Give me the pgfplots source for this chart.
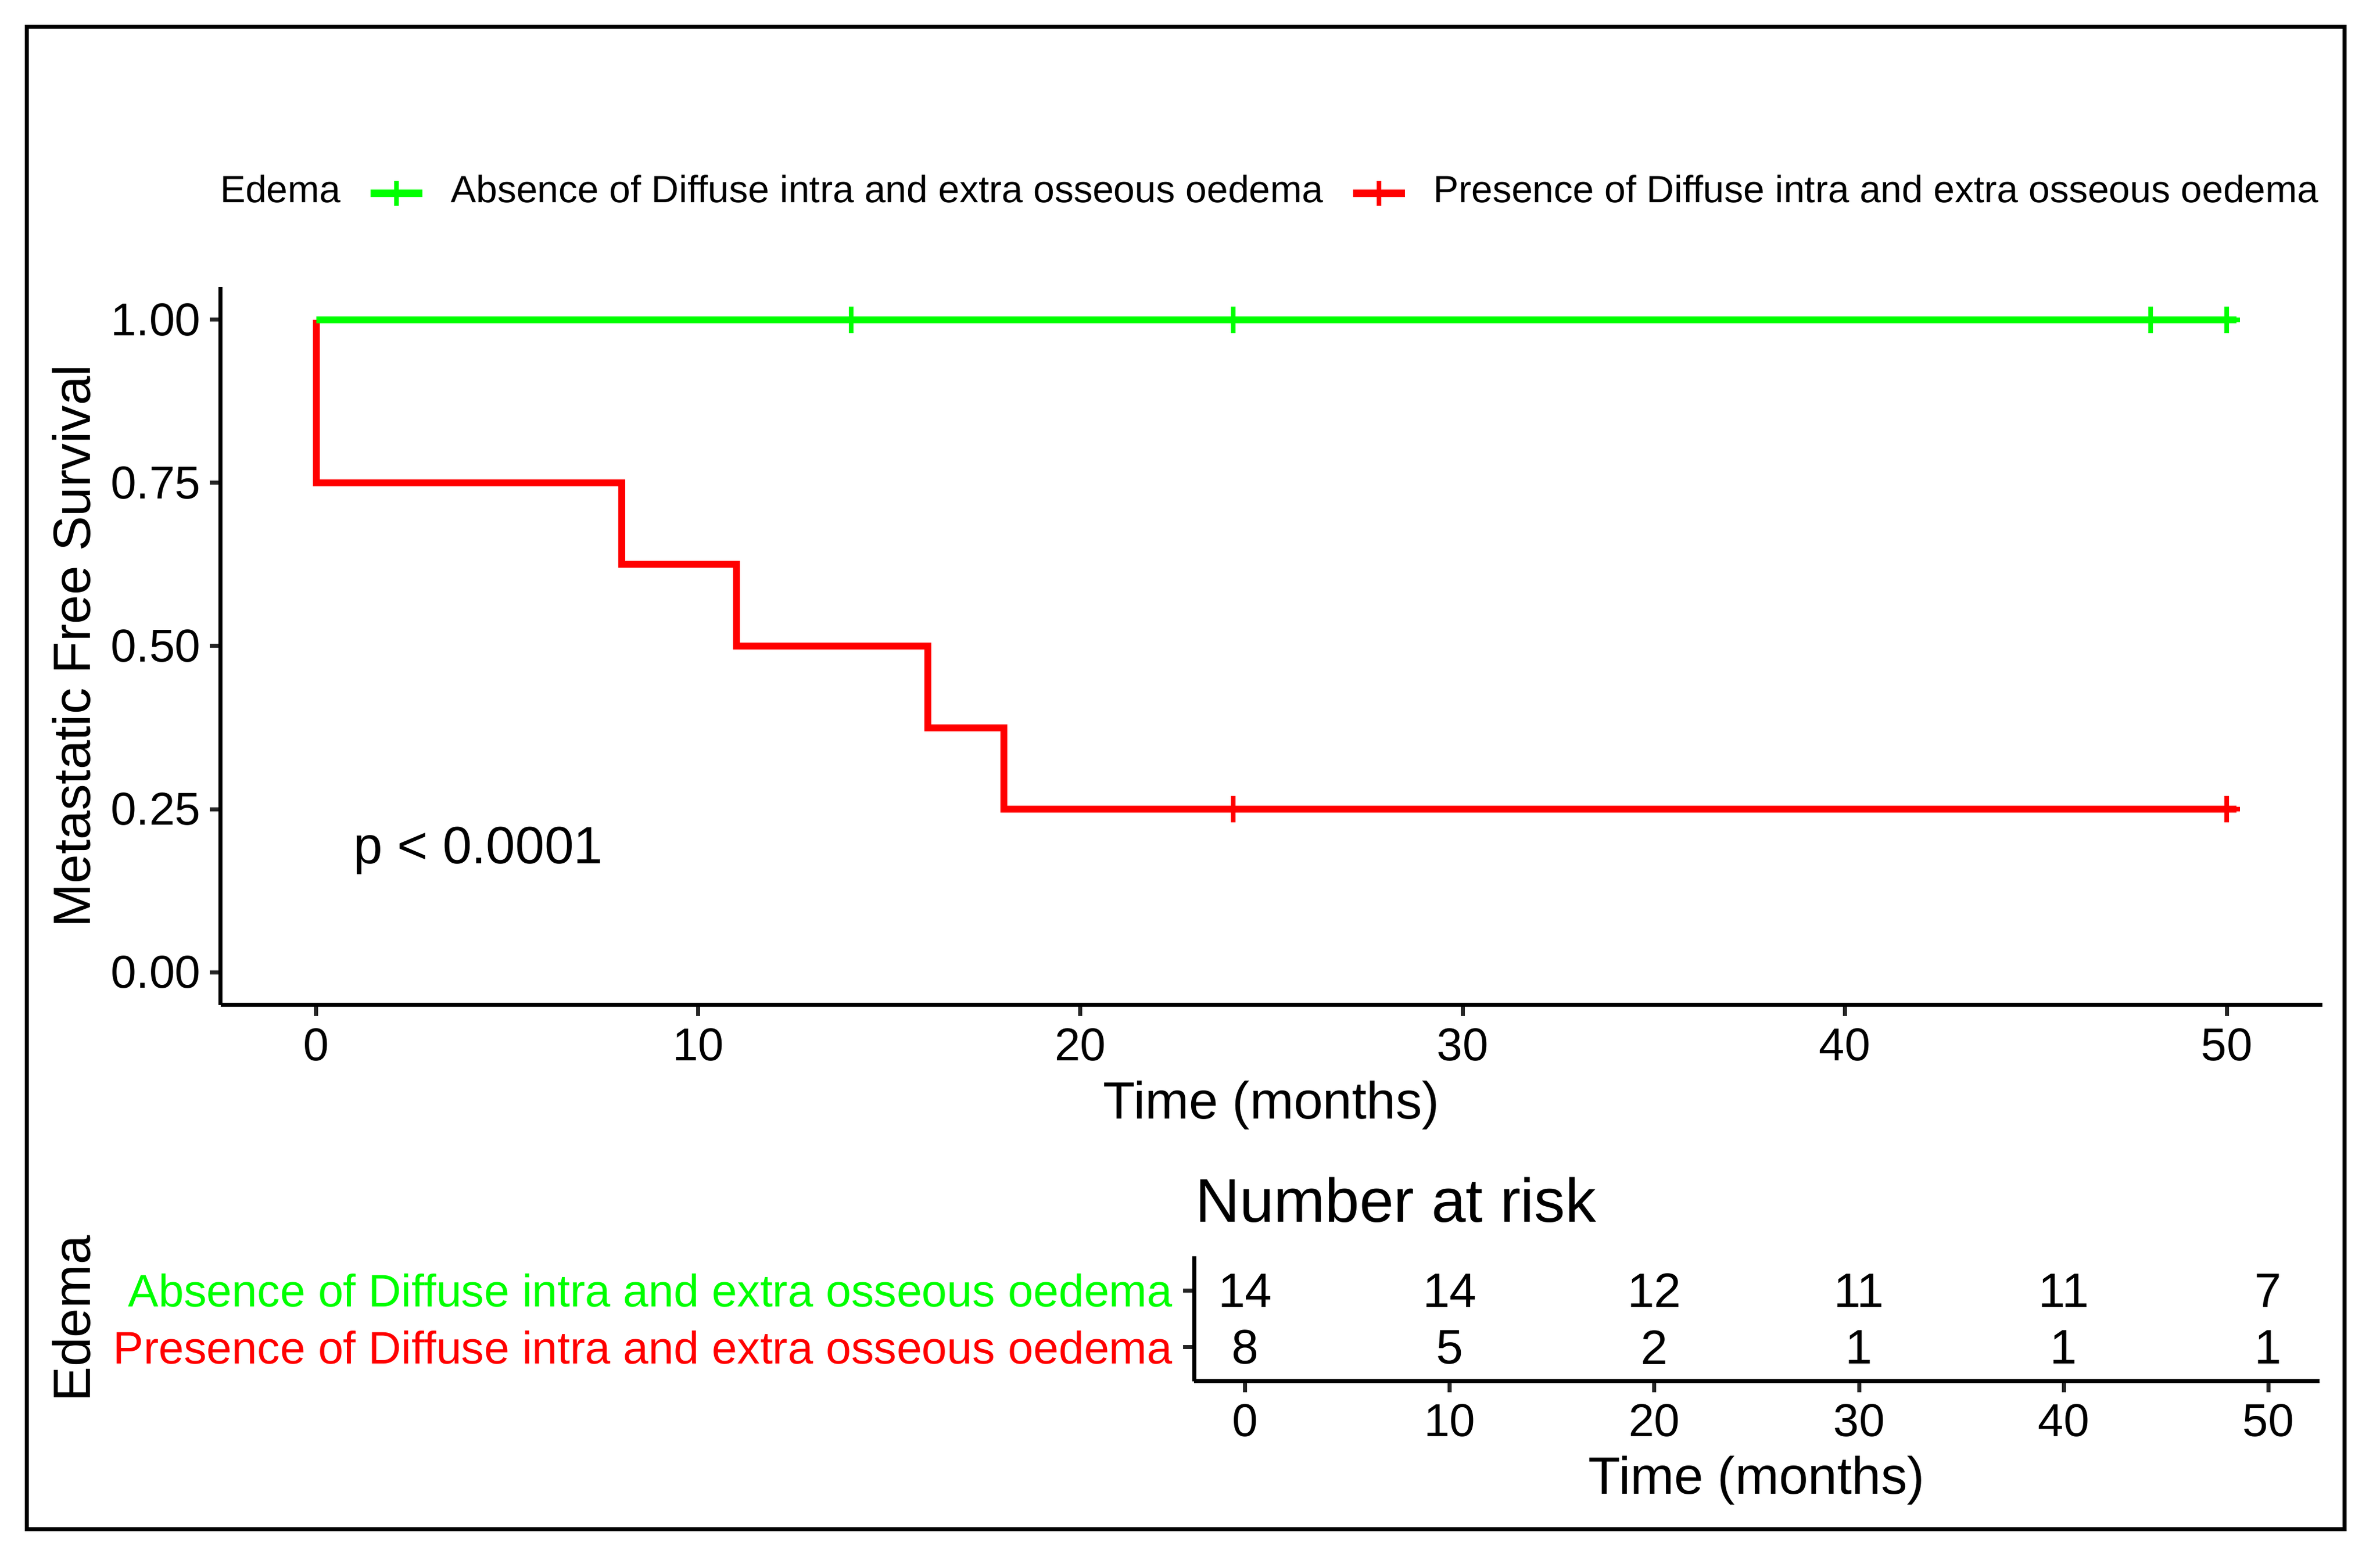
\documentclass[border=0pt]{standalone}
\usepackage{fontspec}
\setmainfont{Liberation Sans}
\usepackage{pgfplots}
\pgfplotsset{compat=1.18}
\definecolor{kmgreen}{RGB}{0,255,0}
\definecolor{kmred}{RGB}{255,0,0}
\newcommand{\fs}[1]{\fontsize{#1bp}{#1bp}\selectfont}

% shared look of both panels (ggplot theme_classic)
\pgfplotsset{km/.style={
  scale only axis, axis lines*=left, tick align=outside,
  axis line style={line width=0.7bp},
  major tick length=1.9bp,
  every tick/.style={black!85, line width=0.7bp},
  /pgf/number format/assume math mode=true,
  tick label style={font=\fs{8}, inner sep=0pt},
  label style={font=\fs{9.1}, inner sep=0pt, anchor=center},
}}

\begin{document}
\begin{tikzpicture}
\path (0,0) rectangle (413bp,270.7bp);
\draw[line width=0.7bp] (4.6bp,5.3bp) rectangle (406.8bp,266.0bp);

% survival curves
\begin{axis}[km,
  at={(38.3bp,96.3bp)}, anchor=south west,
  width=364.7bp, height=124.6bp,
  xmin=-2.5, xmax=52.5, ymin=-0.05, ymax=1.05,
  xtick={0,10,20,30,40,50},
  ytick={0,0.25,0.5,0.75,1},
  yticklabels={0.00,0.25,0.50,0.75,1.00},
  xticklabel style={anchor=north, yshift=-2.0bp},
  yticklabel style={anchor=east, xshift=-1.4bp},
  xlabel={Time (months)},
  xlabel style={at={(axis description cs:0.5,-0.1400)}},
  ylabel={Metastatic Free Survival},
  ylabel style={at={(axis description cs:-0.0710,0.5)}},
  legend columns=-1,
  legend image code/.code={\draw[mark repeat=2,mark phase=2,#1] plot coordinates {(0bp,0bp) (4.5bp,0bp) (9bp,0bp)};},
  legend style={draw=none, fill=none, inner sep=0pt, outer sep=0pt,
    at={(axis description cs:-0.01200,1.1304)}, anchor=west,
    font=\fs{6.6}, nodes={inner sep=0pt},
    /tikz/every odd column/.append style={column sep=4.3bp},
    /tikz/every even column/.append style={column sep=4.5bp}},
]
\addlegendimage{empty legend}
\addlegendentry{Edema}
\addlegendimage{color=kmgreen, line width=1.3bp, mark=+, mark size=2.15bp, mark options={line width=0.8bp}}
\addlegendentry{Absence of Diffuse intra and extra osseous oedema}
\addlegendimage{color=kmred, line width=1.3bp, mark=+, mark size=2.15bp, mark options={line width=0.8bp}}
\addlegendentry{Presence of Diffuse intra and extra osseous oedema}

\addplot[kmred, line width=1.2bp, const plot, forget plot] coordinates {
  (0,1) (0,0.75) (8,0.625) (11,0.5) (16,0.375) (18,0.25) (50.25,0.25)};
\addplot[kmred, only marks, mark=+, mark size=2.3bp, mark options={line width=0.8bp}, forget plot] coordinates {
  (24,0.25) (50,0.25)};
\addplot[kmgreen, line width=1.2bp, const plot, forget plot] coordinates {
  (0,1) (50.25,1)};
\addplot[kmgreen, only marks, mark=+, mark size=2.3bp, mark options={line width=0.8bp}, forget plot] coordinates {
  (14,1) (24,1) (48,1) (50,1)};

\node[anchor=west, inner sep=0pt, font=\fs{9.1}] at (axis cs:0.95,0.186) {p < 0.0001};
\end{axis}

% number at risk table
\begin{axis}[km,
  at={(207.2bp,31.0bp)}, anchor=south west,
  width=195.3bp, height=21.7bp,
  xmin=-2.5, xmax=52.5, ymin=0.4, ymax=2.6,
  xtick={0,10,20,30,40,50},
  ytick={1,2},
  yticklabels={{\color{kmred}Presence of Diffuse intra and extra osseous oedema},
               {\color{kmgreen}Absence of Diffuse intra and extra osseous oedema}},
  xticklabel style={anchor=north, yshift=-1.9bp},
  yticklabel style={anchor=east, xshift=-1.6bp, font=\fs{7.9}},
  xlabel={Time (months)},
  xlabel style={at={(axis description cs:0.5,-0.7926)}},
  ylabel={Edema},
  ylabel style={at={(axis description cs:-0.9974,0.5)}},
  title={Number at risk},
  title style={at={(axis description cs:0,1.001)}, anchor=base west, font=\fs{10.7}, inner sep=0pt},
]
\addplot[only marks, mark=*, mark size=0pt, mark options={draw=none, fill=none},
  nodes near coords, nodes near coords align=center, point meta=explicit symbolic,
  every node near coord/.append style={anchor=center, font=\fs{8.4}, inner sep=0pt}]
  table[meta=n] {
x  y n
0  2 14
10 2 14
20 2 12
30 2 11
40 2 11
50 2 7
0  1 8
10 1 5
20 1 2
30 1 1
40 1 1
50 1 1
};
\end{axis}
\end{tikzpicture}
\end{document}
